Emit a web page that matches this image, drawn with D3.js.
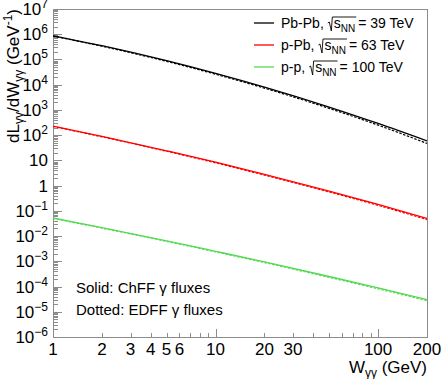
<!DOCTYPE html>
<html>
<head>
<meta charset="utf-8">
<script src="https://cdn.jsdelivr.net/npm/d3@7"></script>
<style>
  body { margin: 0; background: #fff; }
  svg { display: block; font-family: "Liberation Sans", Arial, sans-serif; }
  text { white-space: pre; }
</style>
</head>
<body>
<svg id="chart" width="441" height="379"></svg>
<script>
// photon-photon luminosity, W in GeV
var wValues = [1, 2, 5, 10, 20, 50, 100, 200];

var pbpbSolid  = [8.7e5, 3.5e5, 8.9e4, 2.8e4, 8.0e3, 1.3e3, 2.9e2, 59];
var pbpbDotted = [8.4e5, 3.35e5, 8.4e4, 2.6e4, 7.3e3, 1.15e3, 2.5e2, 47];
var ppbSolid   = [230, 90, 24, 8.5, 2.8, 0.61, 0.18, 0.05];
var ppbDotted  = [220, 86, 23, 8.0, 2.6, 0.56, 0.165, 0.045];
var ppSolid    = [0.052, 0.0217, 6.5e-3, 2.5e-3, 9.5e-4, 2.5e-4, 8.8e-5, 3.0e-5];
var ppDotted   = [0.050, 0.0206, 6.15e-3, 2.36e-3, 8.9e-4, 2.3e-4, 8.1e-5, 2.75e-5];

var seriesNames  = ["Pb-Pb", "p-Pb", "p-p"];
var seriesEnergy = ["39", "63", "100"];
var seriesColors = ["#000000", "#ff0000", "#55d955"];

var xTickValues = [1,2,3,4,5,6,7,8,9,10,20,30,40,50,60,70,80,90,100,200];
var xTickLabels = [1,2,3,4,5,6,10,20,30,100,200];
var yExponents  = [7,6,5,4,3,2,1,0,-1,-2,-3,-4,-5,-6];

(function() {
var svg = d3.select("#chart");
var pLeft = 53, pRight = 427, pTop = 9, pBottom = 337;
var frameColor = "#8c8c8c";

var x = d3.scaleLog().domain([1, 200]).range([pLeft, pRight]);
var y = d3.scaleLog().domain([1e-6, 1e7]).range([pBottom, pTop]);

	//frame
svg.append("rect")
	.attr("x", pLeft + 0.5).attr("y", pTop + 0.5)
	.attr("width", pRight - pLeft).attr("height", pBottom - pTop)
	.attr("fill", "none").attr("stroke", frameColor).attr("stroke-width", 1);

	//x ticks (inside, pointing up)
svg.selectAll(".xtick").data(xTickValues).enter().append("line")
	.attr("class", "xtick")
	.attr("x1", function(d) { return Math.round(x(d)) + 0.5; })
	.attr("x2", function(d) { return Math.round(x(d)) + 0.5; })
	.attr("y1", pBottom)
	.attr("y2", function(d) { return (d == 1 || d == 10 || d == 100) ? pBottom - 8 : pBottom - 4; })
	.attr("stroke", frameColor);

svg.selectAll(".xlabel").data(xTickLabels).enter().append("text")
	.attr("class", "xlabel")
	.attr("x", function(d) { return x(d); })
	.attr("y", 355)
	.attr("text-anchor", "middle")
	.attr("font-size", 17)
	.text(function(d) { return d; });

	//y ticks: major + minor per decade
var yMinor = [];
yExponents.forEach(function(e) {
	if (e < 7) {
		for (var k = 2; k <= 9; k++) yMinor.push(k * Math.pow(10, e));
	}
});
svg.selectAll(".ymin").data(yMinor).enter().append("line")
	.attr("x1", pLeft).attr("x2", pLeft + 5)
	.attr("y1", function(d) { return Math.round(y(d)) + 0.5; })
	.attr("y2", function(d) { return Math.round(y(d)) + 0.5; })
	.attr("stroke", frameColor);
svg.selectAll(".ymaj").data(yExponents).enter().append("line")
	.attr("x1", pLeft).attr("x2", pLeft + 9)
	.attr("y1", function(d) { return Math.round(y(Math.pow(10, d))) + 0.5; })
	.attr("y2", function(d) { return Math.round(y(Math.pow(10, d))) + 0.5; })
	.attr("stroke", frameColor);

yExponents.forEach(function(e) {
	var ty = y(Math.pow(10, e)) + 6;
	var t = svg.append("text")
		.attr("x", 48).attr("y", ty)
		.attr("text-anchor", "end")
		.attr("font-size", 17);
	if (e == 0) { t.text("1"); }
	else if (e == 1) { t.text("10"); }
	else {
		t.append("tspan").text("10");
		t.append("tspan").attr("dy", -7).attr("font-size", 12)
			.text(e < 0 ? "\u2212" + (-e) : e);
	}
});

	//curves
var line = d3.line()
	.x(function(d) { return x(d[0]); })
	.y(function(d) { return y(d[1]); })
	.curve(d3.curveMonotoneX);

function pairs(vals) {
	return wValues.map(function(w, i) { return [w, vals[i]]; });
}

var solids  = [pbpbSolid, ppbSolid, ppSolid];
var dotteds = [pbpbDotted, ppbDotted, ppDotted];

svg.append("clipPath").attr("id", "plotclip").append("rect")
	.attr("x", pLeft).attr("y", pTop).attr("width", pRight - pLeft).attr("height", pBottom - pTop);

var plot = svg.append("g").attr("clip-path", "url(#plotclip)");
dotteds.forEach(function(vals, i) {
	plot.append("path")
		.attr("d", line(pairs(vals)))
		.attr("fill", "none")
		.attr("stroke", seriesColors[i])
		.attr("stroke-width", 1.2)
		.attr("stroke-dasharray", "2.5,1.5");
});
solids.forEach(function(vals, i) {
	plot.append("path")
		.attr("d", line(pairs(vals)))
		.attr("fill", "none")
		.attr("stroke", seriesColors[i])
		.attr("stroke-width", 1.3);
});

	//legend
function appendPiece(g, px, py, str, size) {
	var t = g.append("text").attr("x", px).attr("y", py).attr("font-size", size).text(str);
	return px + t.node().getComputedTextLength();
}

seriesNames.forEach(function(name, i) {
	var ly = 23 + i * 22;
	var g = svg.append("g");
	g.append("line")
		.attr("x1", 254).attr("x2", 274)
		.attr("y1", ly).attr("y2", ly)
		.attr("stroke", seriesColors[i]).attr("stroke-width", 1.3);
	var base = ly + 5;
	var cx = appendPiece(g, 281, base, name + ",", 14) + 4;
	// radical sign
	var rx = cx;
	var sx = cx + 6;
	var endS = appendPiece(g, sx, base, "s", 14);
	var endNN = appendPiece(g, endS, base + 4, "NN", 10);
	g.append("path")
		.attr("d", "M" + (rx) + "," + (base - 5) + " L" + (rx + 1.5) + "," + (base - 6) +
			" L" + (rx + 3.5) + "," + (base + 3) + " L" + (rx + 4.5) + "," + (base - 11) +
			" L" + (endNN + 1) + "," + (base - 11))
		.attr("fill", "none").attr("stroke", "#000").attr("stroke-width", 0.9);
	appendPiece(g, endNN + 3, base, "= " + seriesEnergy[i] + " TeV", 14);
});

svg.append("text").attr("x", 76).attr("y", 293).attr("font-size", 15)
	.text("Solid: ChFF \u03b3 fluxes");
svg.append("text").attr("x", 76).attr("y", 315).attr("font-size", 15)
	.text("Dotted: EDFF \u03b3 fluxes");

	//axis titles
var xt = svg.append("text").attr("x", pRight).attr("y", 373)
	.attr("text-anchor", "end").attr("font-size", 17);
xt.append("tspan").text("W");
xt.append("tspan").attr("dy", 4).attr("font-size", 12).text("\u03b3\u03b3");
xt.append("tspan").attr("dy", -4).text(" (GeV)");

var yt = svg.append("text")
	.attr("transform", "translate(19," + pTop + ") rotate(-90)")
	.attr("text-anchor", "end").attr("font-size", 17);
yt.append("tspan").text("dL");
yt.append("tspan").attr("dy", 4).attr("font-size", 12).text("\u03b3\u03b3");
yt.append("tspan").attr("dy", -4).text("/dW");
yt.append("tspan").attr("dy", 4).attr("font-size", 12).text("\u03b3\u03b3");
yt.append("tspan").attr("dy", -4).text(" (GeV");
yt.append("tspan").attr("dy", -7).attr("font-size", 12).text("-1");
yt.append("tspan").attr("dy", 7).text(")");
})();
</script>
</body>
</html>
